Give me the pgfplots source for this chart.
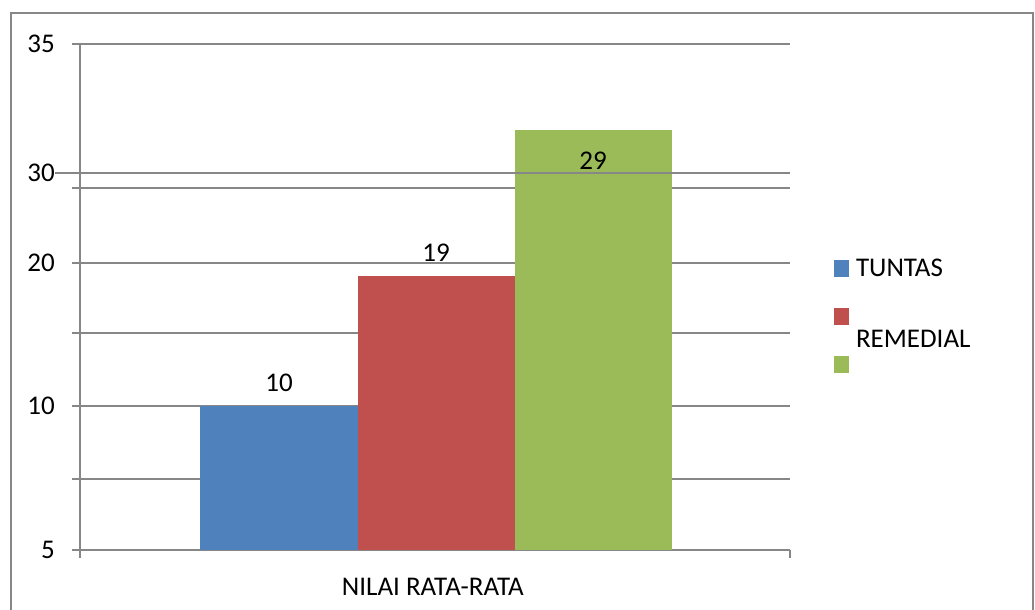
\documentclass[border=0pt]{standalone}
\usepackage{pgfplots}
\pgfplotsset{compat=1.18}
\usepackage{fontspec}
\setmainfont{Carlito}
\definecolor{cblue}{HTML}{4F81BD}
\definecolor{cred}{HTML}{C0504D}
\definecolor{cgreen}{HTML}{9BBB59}
\definecolor{gridgray}{HTML}{878787}
\begin{document}
\begin{tikzpicture}[font=\fontsize{27bp}{32bp}\selectfont]
\useasboundingbox (0,0) rectangle (1035bp,610bp);
\draw[color=gridgray, line width=1.8bp] (11bp,-20bp) rectangle (1033bp,597bp);
\begin{axis}[
  at={(80bp,60bp)}, anchor=south west,
  scale only axis, width=710bp, height=506bp,
  xmin=0, xmax=710, ymin=0, ymax=506,
  axis x line*=bottom, axis y line*=left,
  /pgf/number format/assume math mode=true,
  ytick={0,144,287,377,506}, yticklabels={5,10,20,30,35},
  extra y ticks={71,217,362}, extra y tick labels={},
  extra y tick style={grid=major},
  ymajorgrids,
  grid style={gridgray, line width=1.6bp},
  tick style={gridgray, line width=1.6bp},
  axis line style={gridgray, line width=1.6bp},
  tick align=outside, major tick length=8bp,
  yticklabel style={anchor=east, inner sep=0pt, xshift=-17bp},
  xtick={0,710}, xticklabels={},
  xlabel={NILAI RATA-RATA},
  xlabel style={at={(axis description cs:0.497,0)}, anchor=base, inner sep=0pt, yshift=-45bp},
  ybar=0pt, bar width=157bp,
  clip=false,
  nodes near coords, point meta=explicit symbolic,
  every node near coord/.append style={anchor=center, yshift=23bp, text=black, inner sep=0pt},
  legend image code/.code={\fill[#1] (0bp,0bp) rectangle (15bp,16.5bp);},
  legend style={draw=none, fill=none, inner sep=0pt, outer sep=0pt,
    at={(1.062,0.5731)}, anchor=north west,
    nodes={inner sep=0pt, text height=16.5bp, text depth=0pt, anchor=base west},
    row sep=31.5bp, column sep=7bp},
  legend cell align=left,
]
\addplot[fill=cblue, draw=none] coordinates {(356,144) [10]};
\addlegendentry{TUNTAS}
\addplot[fill=cred, draw=none] coordinates {(356,274) [19]};
\addlegendentry{\smash{\raisebox{-23bp}{REMEDIAL}}}
\addplot[fill=cgreen, draw=none, every node near coord/.append style={yshift=-54bp}] coordinates {(356,420) [29]};
\addlegendentry{}
\draw[gridgray, line width=1.6bp] (axis cs:-25,377) -- (axis cs:710,377);
\end{axis}
\end{tikzpicture}
\end{document}
